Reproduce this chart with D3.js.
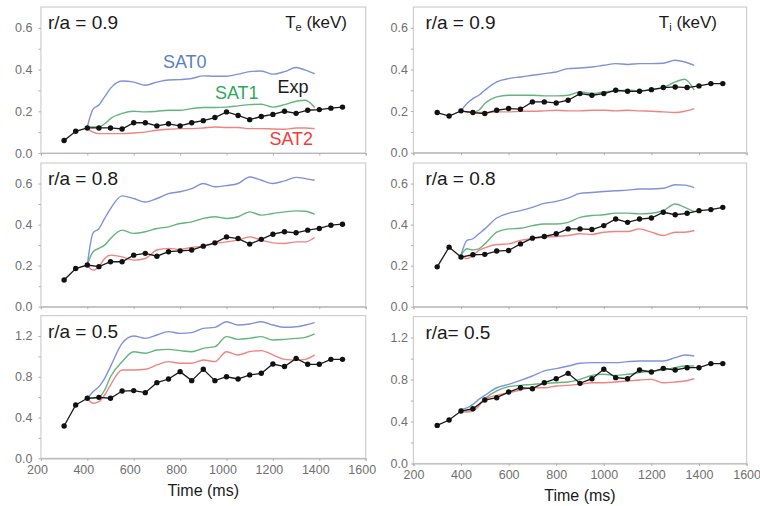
<!DOCTYPE html>
<html>
<head>
<meta charset="utf-8">
<script src="https://cdn.jsdelivr.net/npm/d3@7"></script>
<style>
  body { margin: 0; background: #fff; }
  svg { display: block; font-family: "Liberation Sans", Arial, Helvetica, sans-serif; }
</style>
</head>
<body>
<svg id="chart" width="760" height="506"></svg>
<script>
// experimental sample times (ms) and simulation output times (ms)
var expTimes = [300, 350, 400, 450, 500, 550, 600, 650, 700, 750, 800, 850, 900, 950, 1000, 1050, 1100, 1150, 1200, 1250, 1300, 1350, 1400, 1450, 1500];
var simTimes = [400, 425, 450, 475, 500, 550, 600, 650, 700, 750, 800, 850, 900, 950, 1000, 1050, 1100, 1150, 1200, 1250, 1300, 1340, 1380];
var xTicks = [200, 400, 600, 800, 1000, 1200, 1400, 1600];

// Te, r/a = 0.9
var teExp09  = [0.06, 0.104, 0.12, 0.12, 0.12, 0.115, 0.145, 0.145, 0.13, 0.14, 0.13, 0.145, 0.155, 0.17, 0.197, 0.18, 0.16, 0.175, 0.185, 0.2, 0.19, 0.205, 0.208, 0.215, 0.22];
var teSat0_09 = [0.125, 0.21, 0.23, 0.27, 0.31, 0.345, 0.34, 0.325, 0.34, 0.35, 0.352, 0.357, 0.37, 0.368, 0.368, 0.378, 0.39, 0.393, 0.378, 0.39, 0.41, 0.397, 0.38];
var teSat1_09 = [0.125, 0.125, 0.125, 0.14, 0.165, 0.19, 0.2, 0.197, 0.2, 0.205, 0.205, 0.213, 0.218, 0.218, 0.22, 0.226, 0.232, 0.234, 0.22, 0.232, 0.248, 0.253, 0.218];
var teSat2_09 = [0.117, 0.1, 0.093, 0.093, 0.093, 0.093, 0.096, 0.1, 0.109, 0.114, 0.117, 0.117, 0.12, 0.125, 0.122, 0.122, 0.117, 0.117, 0.115, 0.114, 0.12, 0.12, 0.117];

// Te, r/a = 0.8
var teExp08  = [0.13, 0.186, 0.203, 0.195, 0.219, 0.219, 0.251, 0.26, 0.246, 0.268, 0.272, 0.276, 0.295, 0.311, 0.34, 0.332, 0.305, 0.328, 0.353, 0.365, 0.36, 0.373, 0.381, 0.397, 0.402];
var teSat0_08 = [0.203, 0.36, 0.38, 0.43, 0.478, 0.54, 0.527, 0.51, 0.527, 0.551, 0.56, 0.575, 0.6, 0.584, 0.59, 0.6, 0.632, 0.616, 0.6, 0.613, 0.63, 0.624, 0.616];
var teSat1_08 = [0.203, 0.268, 0.284, 0.3, 0.332, 0.373, 0.357, 0.365, 0.381, 0.389, 0.405, 0.413, 0.43, 0.438, 0.43, 0.438, 0.462, 0.446, 0.454, 0.462, 0.467, 0.465, 0.45];
var teSat2_08 = [0.203, 0.178, 0.195, 0.235, 0.251, 0.243, 0.227, 0.235, 0.276, 0.284, 0.279, 0.289, 0.295, 0.308, 0.316, 0.324, 0.34, 0.324, 0.311, 0.308, 0.316, 0.316, 0.337];

// Te, r/a = 0.5
var teExp05  = [0.317, 0.523, 0.589, 0.598, 0.589, 0.66, 0.664, 0.644, 0.742, 0.778, 0.85, 0.762, 0.873, 0.762, 0.8, 0.778, 0.818, 0.834, 0.925, 0.9, 0.98, 0.922, 0.922, 0.971, 0.971];
var teSat0_05 = [0.589, 0.654, 0.703, 0.785, 0.9, 1.128, 1.2, 1.177, 1.21, 1.243, 1.226, 1.233, 1.275, 1.285, 1.34, 1.308, 1.318, 1.34, 1.308, 1.285, 1.29, 1.308, 1.331];
var teSat1_05 = [0.589, 0.589, 0.598, 0.67, 0.8, 0.948, 1.046, 1.03, 1.063, 1.069, 1.056, 1.046, 1.079, 1.095, 1.194, 1.167, 1.177, 1.194, 1.161, 1.167, 1.177, 1.187, 1.22];
var teSat2_05 = [0.589, 0.54, 0.556, 0.621, 0.719, 0.867, 0.867, 0.873, 0.916, 0.948, 0.932, 0.932, 0.965, 0.948, 1.046, 1.014, 1.046, 1.056, 1.014, 0.971, 0.965, 0.971, 1.014];

// Ti, r/a = 0.9
var tiExp09  = [0.193, 0.176, 0.201, 0.193, 0.188, 0.204, 0.212, 0.209, 0.244, 0.244, 0.239, 0.252, 0.284, 0.276, 0.284, 0.3, 0.295, 0.295, 0.303, 0.313, 0.316, 0.313, 0.321, 0.332, 0.332];
var tiSat0_09 = [0.201, 0.236, 0.26, 0.276, 0.3, 0.34, 0.356, 0.364, 0.372, 0.38, 0.388, 0.404, 0.407, 0.412, 0.42, 0.428, 0.424, 0.428, 0.428, 0.43, 0.444, 0.436, 0.42];
var tiSat1_09 = [0.201, 0.196, 0.196, 0.204, 0.236, 0.268, 0.276, 0.276, 0.276, 0.273, 0.273, 0.276, 0.292, 0.284, 0.292, 0.297, 0.3, 0.297, 0.303, 0.313, 0.34, 0.353, 0.3];
var tiSat2_09 = [0.201, 0.196, 0.193, 0.193, 0.193, 0.196, 0.196, 0.199, 0.199, 0.201, 0.204, 0.201, 0.201, 0.204, 0.204, 0.201, 0.204, 0.201, 0.199, 0.196, 0.193, 0.199, 0.212];

// Ti, r/a = 0.8
var tiExp08  = [0.194, 0.29, 0.242, 0.253, 0.255, 0.271, 0.274, 0.306, 0.334, 0.342, 0.355, 0.379, 0.379, 0.376, 0.395, 0.427, 0.411, 0.427, 0.432, 0.46, 0.448, 0.455, 0.468, 0.473, 0.484];
var tiSat0_08 = [0.25, 0.323, 0.331, 0.355, 0.379, 0.432, 0.455, 0.468, 0.484, 0.503, 0.513, 0.529, 0.552, 0.556, 0.561, 0.565, 0.568, 0.573, 0.573, 0.577, 0.594, 0.592, 0.58];
var tiSat1_08 = [0.25, 0.282, 0.277, 0.282, 0.306, 0.363, 0.379, 0.382, 0.395, 0.403, 0.403, 0.411, 0.435, 0.444, 0.448, 0.456, 0.456, 0.452, 0.455, 0.468, 0.5, 0.484, 0.463];
var tiSat2_08 = [0.25, 0.234, 0.25, 0.274, 0.287, 0.303, 0.306, 0.323, 0.331, 0.339, 0.342, 0.347, 0.355, 0.352, 0.363, 0.366, 0.366, 0.379, 0.363, 0.347, 0.363, 0.363, 0.371];

// Ti, r/a = 0.5
var tiExp05  = [0.363, 0.414, 0.5, 0.522, 0.605, 0.627, 0.681, 0.722, 0.713, 0.77, 0.808, 0.859, 0.764, 0.808, 0.898, 0.818, 0.808, 0.891, 0.872, 0.907, 0.891, 0.913, 0.913, 0.952, 0.952];
var tiSat0_05 = [0.516, 0.531, 0.563, 0.611, 0.649, 0.722, 0.754, 0.792, 0.834, 0.882, 0.904, 0.929, 0.955, 0.961, 0.961, 0.961, 0.971, 0.977, 0.977, 0.977, 1.009, 1.034, 1.025];
var tiSat1_05 = [0.5, 0.5, 0.516, 0.563, 0.617, 0.691, 0.732, 0.745, 0.754, 0.764, 0.77, 0.777, 0.802, 0.84, 0.85, 0.84, 0.85, 0.866, 0.882, 0.891, 0.913, 0.929, 0.929];
var tiSat2_05 = [0.5, 0.49, 0.5, 0.547, 0.611, 0.649, 0.675, 0.7, 0.722, 0.722, 0.738, 0.745, 0.754, 0.77, 0.77, 0.777, 0.786, 0.796, 0.802, 0.77, 0.777, 0.786, 0.808];

var satColors = ["#7086d8", "#52ad70", "#f27474"];

var panels = [
  {col: 0, row: 0, label: "r/a = 0.9", yMax: 0.7, exp: teExp09, sats: [teSat0_09, teSat1_09, teSat2_09]},
  {col: 0, row: 1, label: "r/a = 0.8", yMax: 0.7, exp: teExp08, sats: [teSat0_08, teSat1_08, teSat2_08]},
  {col: 0, row: 2, label: "r/a = 0.5", yMax: 1.4, exp: teExp05, sats: [teSat0_05, teSat1_05, teSat2_05]},
  {col: 1, row: 0, label: "r/a = 0.9", yMax: 0.7, exp: tiExp09, sats: [tiSat0_09, tiSat1_09, tiSat2_09]},
  {col: 1, row: 1, label: "r/a = 0.8", yMax: 0.7, exp: tiExp08, sats: [tiSat0_08, tiSat1_08, tiSat2_08]},
  {col: 1, row: 2, label: "r/a= 0.5", yMax: 1.4, exp: tiExp05, sats: [tiSat0_05, tiSat1_05, tiSat2_05]}
];

// frame geometry
var colX = [[40.9, 365.7], [413.4, 746.6]];
var rowY = [
  [[7, 153], [163, 306.7], [315.6, 458.3]],
  [[7, 152.7], [163, 306.7], [316.6, 463.5]]
];

var svg = d3.select("#chart");

panels.forEach(function(p) {
  var xr = colX[p.col], yr = rowY[p.col][p.row];
  var x = d3.scaleLinear().domain([200, 1600]).range(xr);
  var y = d3.scaleLinear().domain([0, p.yMax]).range([yr[1], yr[0]]);
  var g = svg.append("g");
  var isBottom = p.row == 2;
  var step = isBottom ? 0.2 : 0.1;
  var yTicks = d3.range(0, p.yMax - step / 2, step).map(function(d) { return +d.toFixed(2); });

  // frame
  g.append("rect")
    .attr("x", xr[0]).attr("y", yr[0])
    .attr("width", xr[1] - xr[0]).attr("height", yr[1] - yr[0])
    .attr("fill", "none").attr("stroke", "#cfcfcf").attr("stroke-width", 1.2);

  var yAxis = g.append("g")
    .attr("transform", "translate(" + xr[0] + ",0)")
    .call(d3.axisLeft(y).tickValues(yTicks).tickSize(2.5).tickPadding(p.col == 0 ? 6 : 3)
      .tickFormat(function(d, i) { return i % 2 == 0 ? d3.format(".1f")(d) : ""; }));
  yAxis.select(".domain").remove();

  var xAxis = g.append("g")
    .attr("transform", "translate(0," + yr[1] + ")")
    .call(d3.axisBottom(x).tickValues(xTicks).tickSize(2.5).tickPadding(4)
      .tickFormat(function(d) { return isBottom ? d : ""; }));
  xAxis.select(".domain").attr("stroke", "#b8b8b8").attr("stroke-width", 1.2);

  g.selectAll(".tick line").attr("stroke", "#b0b0b0");
  g.selectAll(".tick text").attr("fill", "#707070").attr("font-size", 12.5)
    .attr("font-family", "'Liberation Sans', Arial, sans-serif");
  if (p.col == 0) xAxis.selectAll(".tick text").attr("dx", -4);

  // simulation curves
  var line = d3.line()
    .x(function(d) { return x(d[0]); })
    .y(function(d) { return y(d[1]); })
    .curve(d3.curveMonotoneX);

  p.sats.forEach(function(vals, k) {
    g.append("path")
      .datum(simTimes.map(function(t, i) { return [t, vals[i]]; }))
      .attr("d", line)
      .attr("fill", "none")
      .attr("stroke", satColors[k])
      .attr("stroke-width", 1.4)
      .attr("stroke-opacity", 0.9);
  });

  // experiment
  var expData = expTimes.map(function(t, i) { return [t, p.exp[i]]; });
  g.append("path")
    .datum(expData)
    .attr("d", d3.line().x(function(d) { return x(d[0]); }).y(function(d) { return y(d[1]); }))
    .attr("fill", "none")
    .attr("stroke", "#1a1a1a")
    .attr("stroke-width", 1.3);

  g.selectAll("circle.exp")
    .data(expData)
    .enter().append("circle")
    .attr("class", "exp")
    .attr("cx", function(d) { return x(d[0]); })
    .attr("cy", function(d) { return y(d[1]); })
    .attr("r", 2.7)
    .attr("fill", "#111");

  g.append("text")
    .attr("x", xr[0] + (p.col == 0 ? 7 : 12))
    .attr("y", yr[0] + 22)
    .attr("font-size", 19)
    .attr("fill", "#1a1a1a")
    .text(p.label);

  if (p.row == 0) {
    var title = g.append("text")
      .attr("x", p.col == 0 ? 347 : 717)
      .attr("y", 28)
      .attr("text-anchor", "end")
      .attr("font-size", 17)
      .attr("fill", "#1a1a1a");
    title.append("tspan").text("T");
    title.append("tspan").attr("font-size", 11).attr("dy", 3).text(p.col == 0 ? "e" : "i");
    title.append("tspan").attr("dy", -3).text(" (keV)");
  }

  if (isBottom) {
    g.append("text")
      .attr("x", (xr[0] + xr[1]) / 2)
      .attr("y", p.col == 0 ? 496 : 501)
      .attr("text-anchor", "middle")
      .attr("font-size", 16)
      .attr("fill", "#1a1a1a")
      .text("Time (ms)");
  }

  // series annotations (first Te panel only)
  if (p.col == 0 && p.row == 0) {
    var notes = [
      {text: "SAT0", t: 726, v: 0.408, color: "#5b7fc4"},
      {text: "SAT1", t: 950, v: 0.258, color: "#2fa85c"},
      {text: "Exp", t: 1220, v: 0.287, color: "#1a1a1a"},
      {text: "SAT2", t: 1185, v: 0.038, color: "#f03c3c"}
    ];
    g.selectAll("text.note")
      .data(notes)
      .enter().append("text")
      .attr("class", "note")
      .attr("x", function(d) { return x(d.t); })
      .attr("y", function(d) { return y(d.v); })
      .attr("font-size", 18)
      .attr("fill", function(d) { return d.color; })
      .text(function(d) { return d.text; });
  }
});
</script>
</body>
</html>
